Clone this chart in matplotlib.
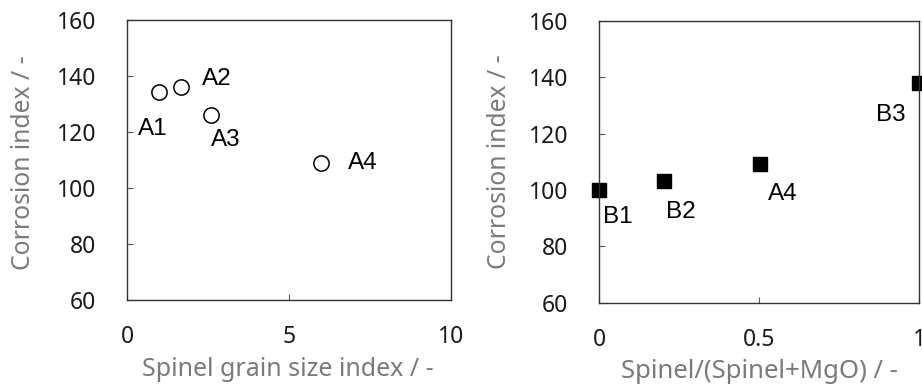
import matplotlib
matplotlib.use('Agg')
import matplotlib.pyplot as plt

# left panel: spinel grain size index vs corrosion index
grain_names = ['A1', 'A2', 'A3', 'A4']
grain_size = [1.0, 1.67, 2.58, 5.98]
grain_corr = [134.2, 136.2, 126.2, 109.0]
grain_lbl_pos = [(0.34, 120.9), (2.3, 138.8), (2.6, 117.3), (6.83, 109.0)]

# right panel: spinel fraction vs corrosion index
ratio_names = ['B1', 'B2', 'A4', 'B3']
ratio_val = [0.0, 0.202, 0.502, 1.0]
ratio_corr = [100.0, 103.1, 109.2, 137.9]
ratio_lbl_pos = [(0.013, 90.4), (0.208, 92.1), (0.527, 98.5), (0.866, 126.5)]

TICK_FONT = 'Noto Sans'
LBL_FONT = 'Liberation Sans'
GRAY = '#7a7a7a'

fig = plt.figure(figsize=(9.22, 3.89), dpi=100)
ax1 = fig.add_axes([127/922, 89/389, 324/922, 280/389])
ax2 = fig.add_axes([599/922, 86.3/389, 320/922, 282/389])


def style(ax, xlim, xticks, xticklabels):
    ax.set_xlim(*xlim)
    ax.set_ylim(60, 160)
    ax.set_xticks(xticks)
    ax.set_xticklabels(xticklabels)
    ax.set_yticks([60, 80, 100, 120, 140, 160])
    ax.tick_params(direction='in', length=4, width=0.8, color='#555555',
                   labelsize=16.5, labelcolor='#1a1a1a')
    ax.tick_params(axis='x', pad=18)
    ax.tick_params(axis='y', pad=22)
    for lab in ax.get_xticklabels() + ax.get_yticklabels():
        lab.set_fontfamily(TICK_FONT)
    for s in ax.spines.values():
        s.set_linewidth(1.0)
        s.set_color('#333333')
    ax.set_ylabel('Corrosion index / -', fontsize=17.8, color=GRAY,
                  family=TICK_FONT)
    ax.yaxis.label.set_va('center')


ax1.plot(grain_size, grain_corr, 'o', ms=11, mfc='white', mec='black',
         mew=1.1, clip_on=False)
for n, (x, y) in zip(grain_names, grain_lbl_pos):
    ax1.text(x, y, n, fontsize=17.5, family=LBL_FONT, va='center', ha='left')
style(ax1, (0, 10), [0, 5, 10], ['0', '5', '10'])
ax1.set_xlabel('Spinel grain size index / -', fontsize=18, color=GRAY,
               family=TICK_FONT)
ax1.xaxis.set_label_coords(0.497, -0.25)
ax1.xaxis.label.set_va('center')
ax1.yaxis.set_label_coords(-0.32, 0.49)

ax2.plot(ratio_val, ratio_corr, 's', ms=10, mfc='black', mec='black',
         clip_on=False)
for n, (x, y) in zip(ratio_names, ratio_lbl_pos):
    ax2.text(x, y, n, fontsize=17.5, family=LBL_FONT, va='center', ha='left')
style(ax2, (0, 1), [0, 0.5, 1], ['0', '0.5', '1'])
ax2.set_xlabel('Spinel/(Spinel+MgO) / -', fontsize=18.5, color=GRAY,
               family=TICK_FONT)
ax2.xaxis.set_label_coords(0.5, -0.245)
ax2.xaxis.label.set_va('center')
ax2.yaxis.set_label_coords(-0.31, 0.5)

fig.savefig('out.png', dpi=100)
